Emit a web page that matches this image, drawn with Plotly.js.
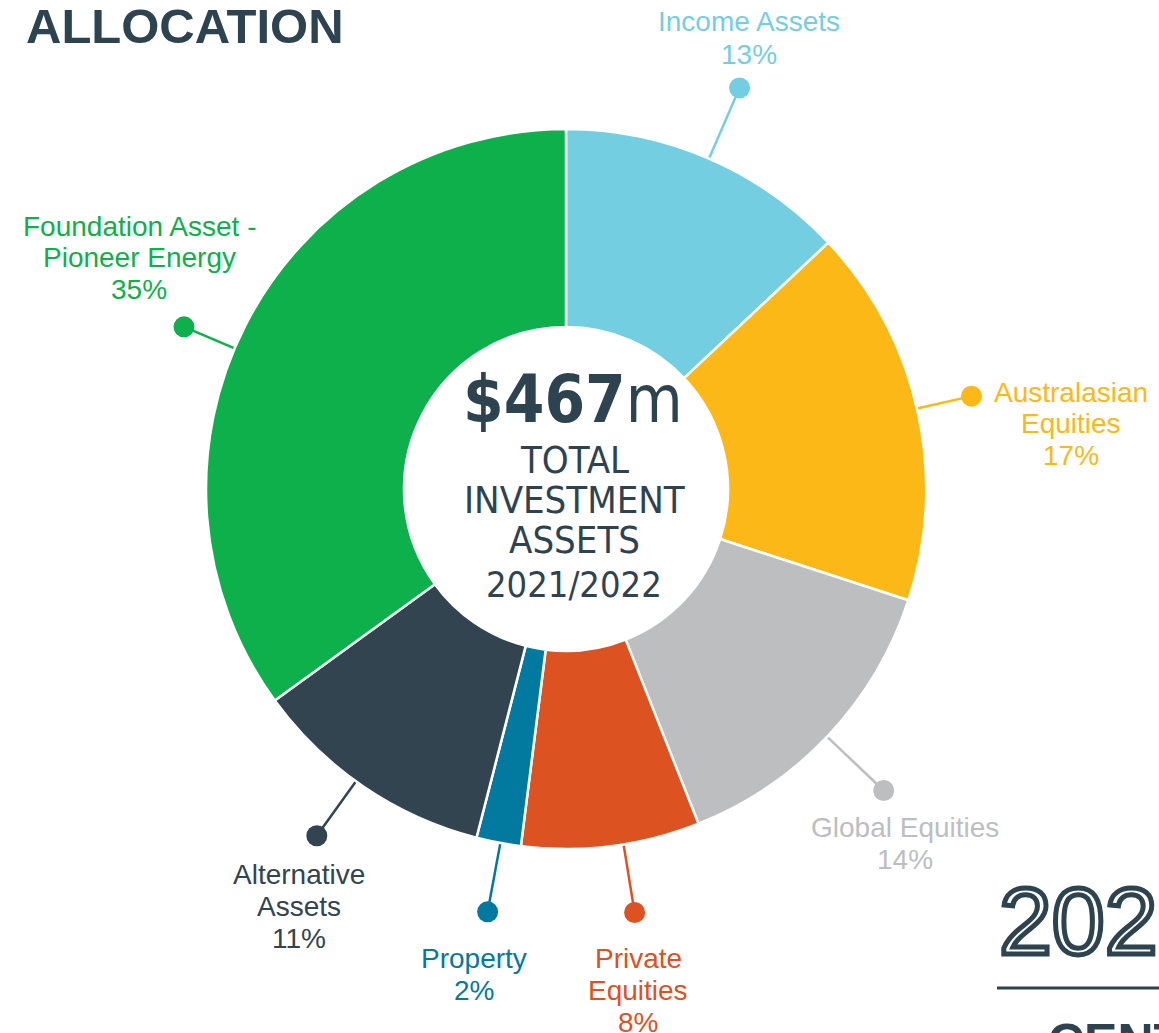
<!DOCTYPE html>
<html>
<head>
<meta charset="utf-8">
<script src="https://cdn.plot.ly/plotly-3.0.1.min.js"></script>
<style>
  html, body { margin: 0; padding: 0; background: #fff; }
  #chart { width: 1159px; height: 1033px; }
</style>
</head>
<body>
<div id="chart"></div>
<script>
// ---- DATA ----
const categories = ["Income Assets", "Australasian Equities", "Global Equities", "Private Equities", "Property", "Alternative Assets", "Foundation Asset - Pioneer Energy"];
const labelLines = [["Income Assets"], ["Australasian", "Equities"], ["Global Equities"], ["Private", "Equities"], ["Property"], ["Alternative", "Assets"], ["Foundation Asset -", "Pioneer Energy"]];
const values = [13, 17, 14, 8, 2, 11, 35];
const totalText = "$467";
const totalUnit = "m";
const centerLines = ["TOTAL", "INVESTMENT", "ASSETS", "2021/2022"];
const titleText = "ALLOCATION";

// ---- STYLE / LAYOUT ----
const colors = ["#74CEE2", "#FBB816", "#BCBEC0", "#DC5220", "#02799E", "#31444F", "#0DB04B"];
const dark = "#2E4350";
const W = 1159, H = 1033;
const CX = 566, CY = 489, R = 360;
// per-slice leader tweaks (layout only)
const dotShiftDeg = [0, -0.3, 0.3, -2, -0.3, 1.5, -4];
const dotRadius = [437, 416, 438, 429, 430, 427, 415];
// label anchors: centre x, first-line centre y (layout only)
const labelAnchor = [[749, 22], [1071, 392], [905, 827], [638, 958], [474, 958], [299, 874], [139, 226]];
const lineGap = 32;
const condensed = "DejaVu Sans Condensed, Liberation Sans Narrow, sans-serif";

const px = x => x / W;
const py = y => 1 - y / H;

const total = values.reduce((a, b) => a + b, 0);

const traces = [];
traces.push({
  type: "pie",
  values: values,
  labels: categories,
  sort: false,
  direction: "clockwise",
  rotation: 0,
  hole: 0.45,
  textinfo: "none",
  hoverinfo: "label+percent",
  marker: { colors: colors, line: { color: "#ffffff", width: 2.5 } },
  domain: { x: [px(CX - R), px(CX + R)], y: [py(CY + R), py(CY - R)] },
  showlegend: false
});

const annotations = [];
let cum = 0;
values.forEach((v, i) => {
  const mid = (cum + v / 2) / total * 360;
  cum += v;
  const a = (mid + dotShiftDeg[i]) * Math.PI / 180;
  const x0 = CX + (R - 2) * Math.sin(a), y0 = CY - (R - 2) * Math.cos(a);
  const x1 = CX + dotRadius[i] * Math.sin(a), y1 = CY - dotRadius[i] * Math.cos(a);
  traces.push({
    type: "scatter", mode: "lines", x: [x0, x1], y: [y0, y1],
    line: { color: colors[i], width: 2.5 }, hoverinfo: "skip", showlegend: false
  });
  traces.push({
    type: "scatter", mode: "markers", x: [x1], y: [y1],
    marker: { color: colors[i], size: 21 }, hoverinfo: "skip", showlegend: false
  });
  const lines = labelLines[i].concat([v + "%"]);
  lines.forEach((t, k) => {
    annotations.push({
      xref: "paper", yref: "paper",
      x: px(labelAnchor[i][0]), y: py(labelAnchor[i][1] + k * lineGap),
      xanchor: "center", yanchor: "middle",
      text: t, showarrow: false,
      font: { family: "Liberation Sans, Arial, sans-serif", size: 28, color: colors[i] }
    });
  });
});

// centre texts
annotations.push({
  xref: "paper", yref: "paper", x: px(573), y: py(399), xanchor: "center", yanchor: "middle",
  text: "<b>" + totalText + "</b>" + totalUnit, showarrow: false,
  font: { family: condensed, size: 65, color: dark }
});
const centerY = [460, 500, 540, 584];
const centerSize = [38, 38, 38, 36];
centerLines.forEach((t, k) => {
  annotations.push({
    xref: "paper", yref: "paper", x: px(574), y: py(centerY[k]), xanchor: "center", yanchor: "middle",
    text: t, showarrow: false,
    font: { family: condensed, size: centerSize[k], color: dark }
  });
});

// title
annotations.push({
  xref: "paper", yref: "paper", x: px(24), y: py(26), xanchor: "left", yanchor: "middle",
  text: "<b>" + titleText + "</b>", showarrow: false,
  font: { family: "Liberation Sans, Arial, sans-serif", size: 49, color: dark }
});
// decorative page fragments
annotations.push({
  xref: "paper", yref: "paper", x: px(997), y: py(921), xanchor: "left", yanchor: "middle",
  text: "202", showarrow: false,
  font: { family: "Liberation Sans, Arial, sans-serif", size: 95, color: dark }
});
annotations.push({
  xref: "paper", yref: "paper", x: px(1046), y: py(1042), xanchor: "left", yanchor: "middle",
  text: "<b>CENTRAL</b>", showarrow: false,
  font: { family: "Liberation Sans, Arial, sans-serif", size: 50, color: dark }
});

const layout = {
  width: W, height: H,
  margin: { l: 0, r: 0, t: 0, b: 0, pad: 0 },
  paper_bgcolor: "#ffffff", plot_bgcolor: "rgba(0,0,0,0)",
  xaxis: { range: [0, W], visible: false, fixedrange: true, domain: [0, 1] },
  yaxis: { range: [H, 0], visible: false, fixedrange: true, domain: [0, 1] },
  showlegend: false,
  annotations: annotations,
  shapes: [{
    type: "line", xref: "paper", yref: "paper",
    x0: px(997), x1: px(1159), y0: py(988), y1: py(988),
    line: { color: dark, width: 3 }
  }]
};

Plotly.newPlot("chart", traces, layout, { displayModeBar: false, staticPlot: true }).then(() => {
  document.querySelectorAll(".annotation-text").forEach(t => {
    if (t.textContent === "202") {
      t.style.fill = "#ffffff";
      t.style.stroke = dark;
      t.style.strokeWidth = "5px";
    }
  });
});
</script>
</body>
</html>
